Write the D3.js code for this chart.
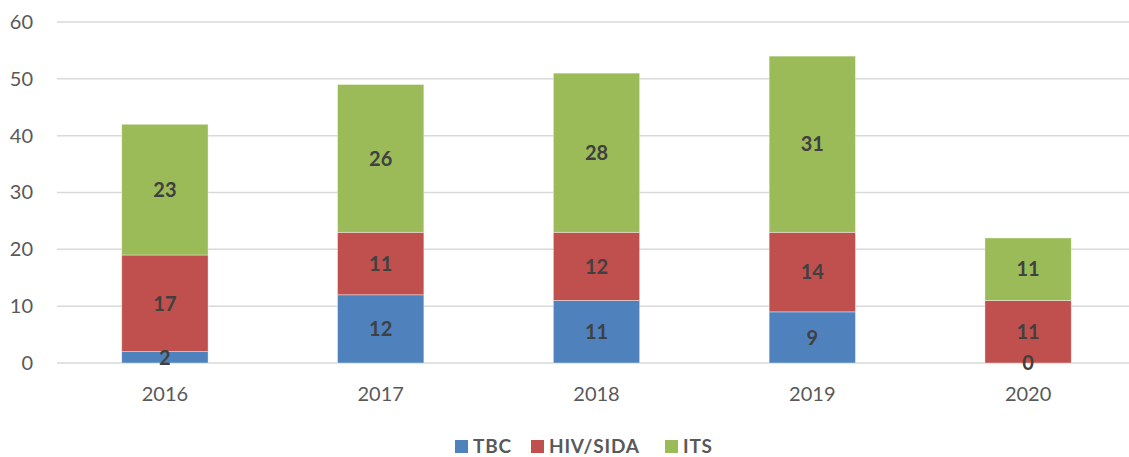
<!DOCTYPE html>
<html>
<head>
<meta charset="utf-8">
<script src="https://cdn.jsdelivr.net/npm/d3@7"></script>
<style>
  body { margin: 0; background: #fff; }
  svg { display: block; }
  text { font-family: Lato, "Open Sans", sans-serif; }
</style>
</head>
<body>
<div class="canvas"></div>
<script>
const years = ["2016", "2017", "2018", "2019", "2020"]
const seriesNames = ["TBC", "HIV/SIDA", "ITS"]
const tbc = [2, 12, 11, 9, 0]
const hiv = [17, 11, 12, 14, 11]
const its = [23, 26, 28, 31, 11]
const yTicks = [0, 10, 20, 30, 40, 50, 60]
const colors = ["#4f81bd", "#c0504d", "#9bbb59"]

const width = 1129
const height = 457

const svg = d3.select(".canvas")
    .append("svg")
    .attr("width", width)
    .attr("height", height)

const margin = { top: 22, left: 57, bottom: 94 }
const plotRight = 1136
const graphHeight = height - margin.top - margin.bottom

// table for stacking
const table = years.map((y, i) => ({ year: y, TBC: tbc[i], "HIV/SIDA": hiv[i], ITS: its[i] }))
const stacked = d3.stack().keys(seriesNames)(table)

const scaleX = d3.scaleBand()
    .domain(years)
    .range([margin.left, plotRight])
    .paddingInner(0.6)
    .paddingOuter(0.3)

const scaleY = d3.scaleLinear()
    .domain([0, 60])
    .range([margin.top + graphHeight, margin.top])

// gridlines
svg.append("g")
    .selectAll("line")
    .data(yTicks)
    .enter()
    .append("line")
    .attr("x1", margin.left)
    .attr("x2", plotRight)
    .attr("y1", d => scaleY(d))
    .attr("y2", d => scaleY(d))
    .attr("stroke", "#d9d9d9")
    .attr("stroke-width", 1.5)

// y axis labels
const yAxis = d3.axisLeft(scaleY).tickValues(yTicks).tickSize(0).tickPadding(24)
const yAxisGroup = svg.append("g")
    .attr("transform", `translate(${margin.left}, 0)`)
    .call(yAxis)
yAxisGroup.select(".domain").remove()
yAxisGroup.selectAll("text")
    .attr("font-size", 20)
    .attr("fill", "#595959")
    .style("font-family", "Lato, sans-serif")

// x axis labels
const xAxis = d3.axisBottom(scaleX).tickSize(0).tickPadding(24)
const xAxisGroup = svg.append("g")
    .attr("transform", `translate(0, ${scaleY(0)})`)
    .call(xAxis)
xAxisGroup.select(".domain").remove()
xAxisGroup.selectAll("text")
    .attr("font-size", 20)
    .attr("fill", "#595959")
    .style("font-family", "Lato, sans-serif")

// bars
const layers = svg.append("g")
    .selectAll("g")
    .data(stacked)
    .enter()
    .append("g")
    .attr("fill", (d, i) => colors[i])

layers.selectAll("rect")
    .data(d => d)
    .enter()
    .append("rect")
    .attr("x", d => scaleX(d.data.year))
    .attr("width", scaleX.bandwidth())
    .attr("y", d => scaleY(d[1]))
    .attr("height", d => scaleY(d[0]) - scaleY(d[1]))
    .attr("stroke", "#ffffff")
    .attr("stroke-opacity", 0.5)
    .attr("stroke-width", 0.75)

// data labels, drawn after all bars so they stay on top
const labelData = stacked.flatMap(s => s.map(p => ({ p: p, key: s.key })))
svg.append("g")
    .selectAll("text")
    .data(labelData)
    .enter()
    .append("text")
    .attr("x", d => scaleX(d.p.data.year) + scaleX.bandwidth() / 2)
    .attr("y", d => (scaleY(d.p[0]) + scaleY(d.p[1])) / 2)
    .attr("dy", "0.36em")
    .attr("text-anchor", "middle")
    .attr("font-size", 20)
    .attr("font-weight", "bold")
    .attr("fill", "#404040")
    .text(d => d.p.data[d.key])

// legend
const legendX = [455, 531, 665]
const legend = svg.append("g")
    .selectAll("g")
    .data(seriesNames)
    .enter()
    .append("g")
    .attr("transform", (d, i) => `translate(${legendX[i]}, 446)`)

legend.append("rect")
    .attr("x", 0)
    .attr("y", -6)
    .attr("width", 13)
    .attr("height", 13)
    .attr("fill", (d, i) => colors[i])

legend.append("text")
    .attr("x", 18)
    .attr("y", 0)
    .attr("dy", "0.36em")
    .attr("font-size", 19)
    .attr("font-weight", "bold")
    .attr("letter-spacing", 0.8)
    .attr("fill", "#595959")
    .text(d => d)
</script>
</body>
</html>
